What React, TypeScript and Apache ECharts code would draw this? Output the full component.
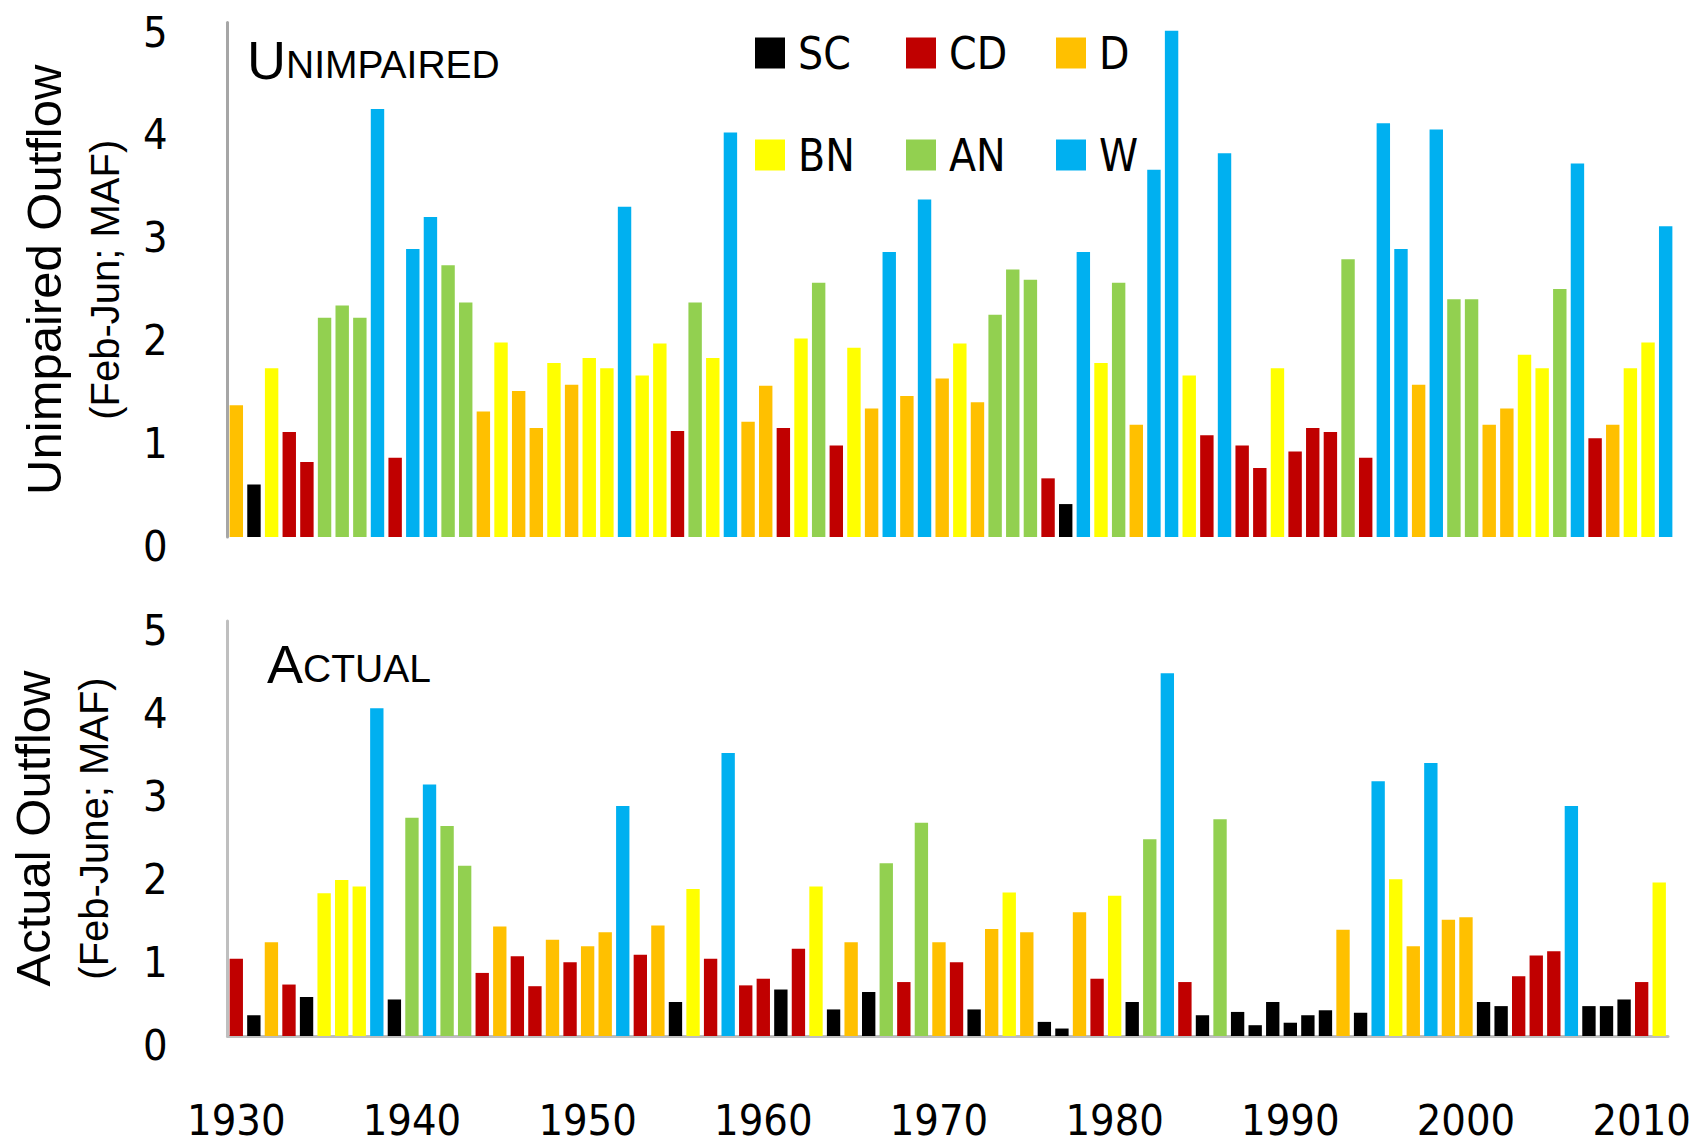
import React, { useEffect, useRef } from "react";
import * as echarts from "echarts";

// Water years (categories)
const YEARS = [
  1930, 1931, 1932, 1933, 1934, 1935, 1936, 1937, 1938, 1939,
  1940, 1941, 1942, 1943, 1944, 1945, 1946, 1947, 1948, 1949,
  1950, 1951, 1952, 1953, 1954, 1955, 1956, 1957, 1958, 1959,
  1960, 1961, 1962, 1963, 1964, 1965, 1966, 1967, 1968, 1969,
  1970, 1971, 1972, 1973, 1974, 1975, 1976, 1977, 1978, 1979,
  1980, 1981, 1982, 1983, 1984, 1985, 1986, 1987, 1988, 1989,
  1990, 1991, 1992, 1993, 1994, 1995, 1996, 1997, 1998, 1999,
  2000, 2001, 2002, 2003, 2004, 2005, 2006, 2007, 2008, 2009,
  2010, 2011,
];

// Year-type classes and their colours
const TYPE_NAMES = ["SC", "CD", "D", "BN", "AN", "W"];
const TYPE_COLORS = ["#000000", "#C00000", "#FFC000", "#FFFF00", "#92D050", "#00B0F0"];

// Unimpaired outflow (Feb-Jun; MAF)
const UNIMPAIRED_VALUES = [
  1.28, 0.51, 1.64, 1.02, 0.73, 2.13, 2.25, 2.13, 4.16, 0.77,
  2.80, 3.11, 2.64, 2.28, 1.22, 1.89, 1.42, 1.06, 1.69, 1.48,
  1.74, 1.64, 3.21, 1.57, 1.88, 1.03, 2.28, 1.74, 3.93, 1.12,
  1.47, 1.06, 1.93, 2.47, 0.89, 1.84, 1.25, 2.77, 1.37, 3.28,
  1.54, 1.88, 1.31, 2.16, 2.60, 2.50, 0.57, 0.32, 2.77, 1.69,
  2.47, 1.09, 3.57, 4.92, 1.57, 0.99, 3.73, 0.89, 0.67, 1.64,
  0.83, 1.06, 1.02, 2.70, 0.77, 4.02, 2.80, 1.48, 3.96, 2.31,
  2.31, 1.09, 1.25, 1.77, 1.64, 2.41, 3.63, 0.96, 1.09, 1.64,
  1.89, 3.02,
];
const UNIMPAIRED_TYPES = [
  "D", "SC", "BN", "CD", "CD", "AN", "AN", "AN", "W", "CD",
  "W", "W", "AN", "AN", "D", "BN", "D", "D", "BN", "D",
  "BN", "BN", "W", "BN", "BN", "CD", "AN", "BN", "W", "D",
  "D", "CD", "BN", "AN", "CD", "BN", "D", "W", "D", "W",
  "D", "BN", "D", "AN", "AN", "AN", "CD", "SC", "W", "BN",
  "AN", "D", "W", "W", "BN", "CD", "W", "CD", "CD", "BN",
  "CD", "CD", "CD", "AN", "CD", "W", "W", "D", "W", "AN",
  "AN", "D", "D", "BN", "BN", "AN", "W", "CD", "D", "BN",
  "BN", "W",
];

// Actual outflow (Feb-June; MAF)
const ACTUAL_VALUES = [
  0.93, 0.25, 1.13, 0.62, 0.47, 1.72, 1.88, 1.80, 3.95, 0.44,
  2.63, 3.03, 2.53, 2.05, 0.76, 1.32, 0.96, 0.60, 1.16, 0.89,
  1.08, 1.25, 2.77, 0.98, 1.33, 0.41, 1.77, 0.93, 3.41, 0.61,
  0.69, 0.56, 1.05, 1.80, 0.32, 1.13, 0.53, 2.08, 0.65, 2.57,
  1.13, 0.89, 0.32, 1.29, 1.73, 1.25, 0.17, 0.09, 1.49, 0.69,
  1.69, 0.41, 2.37, 4.37, 0.65, 0.25, 2.61, 0.29, 0.13, 0.41,
  0.16, 0.25, 0.31, 1.28, 0.28, 3.07, 1.89, 1.08, 3.29, 1.40,
  1.43, 0.41, 0.36, 0.72, 0.97, 1.02, 2.77, 0.36, 0.36, 0.44,
  0.65, 1.85,
];
const ACTUAL_TYPES = [
  "CD", "SC", "D", "CD", "SC", "BN", "BN", "BN", "W", "SC",
  "AN", "W", "AN", "AN", "CD", "D", "CD", "CD", "D", "CD",
  "D", "D", "W", "CD", "D", "SC", "BN", "CD", "W", "CD",
  "CD", "SC", "CD", "BN", "SC", "D", "SC", "AN", "CD", "AN",
  "D", "CD", "SC", "D", "BN", "D", "SC", "SC", "D", "CD",
  "BN", "SC", "AN", "W", "CD", "SC", "AN", "SC", "SC", "SC",
  "SC", "SC", "SC", "D", "SC", "W", "BN", "D", "W", "D",
  "D", "SC", "SC", "CD", "CD", "CD", "W", "SC", "SC", "SC",
  "CD", "BN",
];

const SANS = "'Liberation Sans', Arial, sans-serif";

// Prefer a narrow face for horizontal texts if one is installed.
function hasFont(name: string): boolean {
  try {
    const ctx = document.createElement("canvas").getContext("2d");
    if (!ctx) return false;
    const sample = "1930 SCBN mmwwii";
    ctx.font = "40px monospace";
    const a = ctx.measureText(sample).width;
    ctx.font = `40px '${name}', monospace`;
    const b = ctx.measureText(sample).width;
    return Math.abs(a - b) > 0.5;
  } catch (e) {
    return false;
  }
}

export default function App() {
  const ref = useRef<HTMLDivElement>(null);

  useEffect(() => {
    if (!ref.current) return;
    const chart = echarts.init(ref.current, null, { renderer: "svg" });
    const cats = YEARS.map(String);

    let narrow = SANS;
    let digitSize = 42;
    let legendSize = 44;
    if (hasFont("Liberation Sans Narrow")) {
      narrow = "'Liberation Sans Narrow', " + SANS;
      digitSize = 46;
      legendSize = 48;
    } else if (hasFont("DejaVu Sans Condensed")) {
      narrow = "'DejaVu Sans Condensed', " + SANS;
      digitSize = 43;
      legendSize = 44;
    }

    const makeSeries = (values: number[], types: string[], idx: number) =>
      TYPE_NAMES.map((name, k) => ({
        name,
        type: "bar",
        xAxisIndex: idx,
        yAxisIndex: idx,
        stack: "panel" + idx,
        barWidth: "76%",
        silent: true,
        itemStyle: { color: TYPE_COLORS[k] },
        data: values.map((v, i) => (types[i] === name ? v : null)),
      }));

    const legendPos = [
      [755, 31],
      [906, 31],
      [1056, 31],
      [755, 133],
      [906, 133],
      [1056, 133],
    ];

    const yLabel = {
      fontFamily: narrow,
      fontSize: digitSize,
      lineHeight: 18,
      verticalAlign: "top",
      color: "#000",
      margin: 60,
    };

    const titleRich = {
      u: { fontFamily: SANS, fontSize: 54, lineHeight: 54, verticalAlign: "bottom", color: "#000" },
      s: { fontFamily: SANS, fontSize: 39, lineHeight: 39, verticalAlign: "bottom", padding: [0, 0, 3, 0], color: "#000" },
    };

    const nameRich = {
      a: { fontFamily: SANS, fontSize: 49, lineHeight: 62, color: "#000" },
      b: { fontFamily: SANS, fontSize: 40, lineHeight: 60, color: "#000" },
    };

    const option: any = {
      animation: false,
      backgroundColor: "#ffffff",
      legend: TYPE_NAMES.map((name, k) => ({
        data: [name],
        left: legendPos[k][0],
        top: legendPos[k][1],
        padding: 0,
        itemWidth: 30,
        itemHeight: 31,
        icon: "rect",
        selectedMode: false,
        textStyle: {
          fontFamily: narrow,
          fontSize: legendSize,
          color: "#000",
          lineHeight: 19,
          padding: [12, 0, 0, 8],
        },
      })),
      grid: [
        { left: 227.5, top: 22.5, width: 1447, height: 514.5 },
        { left: 227, top: 621, width: 1441, height: 415 },
      ],
      xAxis: [
        {
          type: "category",
          gridIndex: 0,
          data: cats,
          axisLine: { show: false },
          axisTick: { show: false },
          axisLabel: { show: false },
        },
        {
          type: "category",
          gridIndex: 1,
          data: cats,
          axisLine: { show: true, lineStyle: { color: "#BFBFBF", width: 3 } },
          axisTick: { show: false },
          axisLabel: {
            interval: 9,
            fontFamily: narrow,
            fontSize: digitSize,
            lineHeight: 36,
            color: "#000",
            margin: 84,
            verticalAlign: "middle",
          },
        },
      ],
      yAxis: [
        {
          type: "value",
          gridIndex: 0,
          min: 0,
          max: 5,
          interval: 1,
          splitLine: { show: false },
          axisTick: { show: false },
          axisLine: { show: true, lineStyle: { color: "#A6A6A6", width: 3 } },
          axisLabel: yLabel,
          name: "{a|Unimpaired Outflow}\n{b|(Feb-Jun; MAF)}",
          nameLocation: "middle",
          nameRotate: 90,
          nameGap: 93,
          nameTextStyle: { rich: nameRich },
        },
        {
          type: "value",
          gridIndex: 1,
          min: 0,
          max: 5,
          interval: 1,
          splitLine: { show: false },
          axisTick: { show: false },
          axisLine: { show: true, lineStyle: { color: "#BFBFBF", width: 3 } },
          axisLabel: yLabel,
          name: "{a|Actual Outflow}\n{b|(Feb-June; MAF)}",
          nameLocation: "middle",
          nameRotate: 90,
          nameGap: 104,
          nameTextStyle: { rich: nameRich },
        },
      ],
      graphic: [
        {
          type: "text",
          x: 247,
          y: 87,
          silent: true,
          style: {
            text: "{u|U}{s|NIMPAIRED}",
            verticalAlign: "bottom",
            rich: titleRich,
          },
        },
        {
          type: "text",
          x: 267,
          y: 691,
          silent: true,
          style: {
            text: "{u|A}{s|CTUAL}",
            verticalAlign: "bottom",
            rich: titleRich,
          },
        },
      ],
      series: [
        ...makeSeries(UNIMPAIRED_VALUES, UNIMPAIRED_TYPES, 0),
        ...makeSeries(ACTUAL_VALUES, ACTUAL_TYPES, 1),
      ],
    };

    chart.setOption(option);
    return () => chart.dispose();
  }, []);

  return (
    <div
      ref={ref}
      style={{ position: "absolute", left: 0, top: 0, width: 1697, height: 1146, background: "#fff" }}
    />
  );
}
